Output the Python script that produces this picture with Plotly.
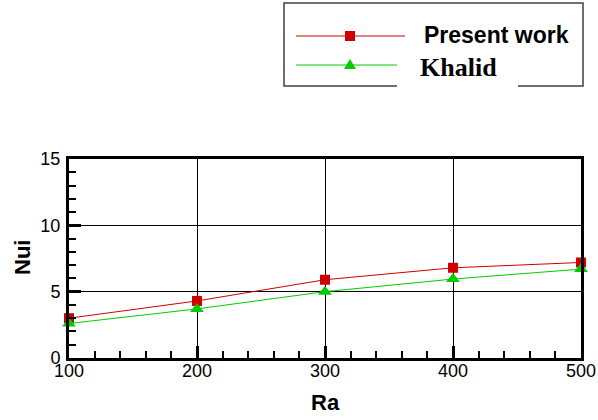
import plotly.graph_objects as go

ra = [100, 200, 300, 400, 500]
nu_present = [3.0, 4.3, 5.9, 6.8, 7.2]
nu_khalid = [2.6, 3.7, 5.0, 5.95, 6.7]
x_ticks = [100, 200, 300, 400, 500]
y_ticks = [0, 5, 10, 15]

RED = "#d00000"
GREEN = "#00cc00"

W, H = 598, 420
L, R, T, B = 69, 581, 159, 358


def px(x):
    return (x - L) / (R - L)


def py(y):
    return (B - y) / (B - T)


fig = go.Figure()
fig.add_trace(go.Scatter(x=ra, y=nu_present, mode="lines+markers", name="Present work",
                         line=dict(color=RED, width=1),
                         marker=dict(symbol="square", size=10, color=RED),
                         cliponaxis=False))
fig.add_trace(go.Scatter(x=ra, y=nu_khalid, mode="lines+markers", name="Khalid",
                         line=dict(color=GREEN, width=1),
                         marker=dict(symbol="triangle-up", size=12, color=GREEN),
                         cliponaxis=False))

font = "Liberation Sans, Arial, Helvetica, sans-serif"

shapes = []
# legend box
shapes.append(dict(type="rect", xref="paper", yref="paper",
                   x0=px(284), x1=px(583), y0=py(86), y1=py(3),
                   line=dict(color="#404040", width=1.5), fillcolor="rgba(0,0,0,0)"))
# white box behind Khalid label (covers part of border)
shapes.append(dict(type="rect", xref="paper", yref="paper",
                   x0=px(397), x1=px(518), y0=py(92), y1=py(52),
                   line=dict(width=0), fillcolor="white"))
# legend lines
shapes.append(dict(type="line", xref="paper", yref="paper",
                   x0=px(296), x1=px(405), y0=py(36), y1=py(36),
                   line=dict(color=RED, width=1)))
shapes.append(dict(type="line", xref="paper", yref="paper",
                   x0=px(296), x1=px(397), y0=py(65), y1=py(65),
                   line=dict(color=GREEN, width=1)))
# legend markers
shapes.append(dict(type="rect", xref="paper", yref="paper",
                   xsizemode="pixel", ysizemode="pixel",
                   xanchor=px(350), yanchor=py(36),
                   x0=-5, x1=5, y0=-5, y1=5,
                   line=dict(width=0), fillcolor=RED))
shapes.append(dict(type="path", xref="paper", yref="paper",
                   xsizemode="pixel", ysizemode="pixel",
                   xanchor=px(350), yanchor=py(64),
                   path="M -6 -5 L 6 -5 L 0 5 Z",
                   line=dict(width=0), fillcolor=GREEN))

annotations = [
    dict(text="<b>Present work</b>", xref="paper", yref="paper",
         x=px(422), y=py(35), xanchor="left", yanchor="middle", showarrow=False,
         font=dict(family=font, size=23, color="black")),
    dict(text="<b>Khalid</b>", xref="paper", yref="paper",
         x=px(418), y=py(68), xanchor="left", yanchor="middle", showarrow=False,
         font=dict(family="Liberation Serif, Times New Roman, serif", size=26, color="black")),
    dict(text="<b>Ra</b>", xref="paper", yref="paper",
         x=px(325), y=py(402), xanchor="center", yanchor="middle", showarrow=False,
         font=dict(family=font, size=22, color="black")),
    dict(text="<b>Nui</b>", xref="paper", yref="paper", textangle=-90,
         x=px(22), y=py(258), xanchor="center", yanchor="middle", showarrow=False,
         font=dict(family=font, size=22, color="black")),
]

fig.update_layout(
    width=W, height=H,
    margin=dict(l=L, r=W - R, t=T, b=H - B, pad=0, autoexpand=False),
    paper_bgcolor="white", plot_bgcolor="white",
    showlegend=False,
    shapes=shapes, annotations=annotations,
    font=dict(family=font, size=18, color="black"),
)
common = dict(
    showline=True, linecolor="black", linewidth=3, mirror=True,
    ticks="inside", ticklen=12, tickwidth=2.5, tickcolor="black",
    showgrid=True, gridcolor="black", gridwidth=1, zeroline=False,
    tickfont=dict(size=18), automargin=False,
)
fig.update_xaxes(
    range=[100, 500], tickvals=x_ticks, ticktext=[str(v) for v in x_ticks],
    minor=dict(ticks="inside", ticklen=7, tickwidth=1.5, tickcolor="black", dtick=20, showgrid=False),
    ticklabelstandoff=-6,
    **common,
)
fig.update_yaxes(
    range=[0, 15], tickvals=y_ticks, ticktext=[str(v) for v in y_ticks],
    minor=dict(ticks="inside", ticklen=7, tickwidth=1.5, tickcolor="black", dtick=1, showgrid=False),
    ticklabelstandoff=2,
    **common,
)

fig.write_html("out.html")
